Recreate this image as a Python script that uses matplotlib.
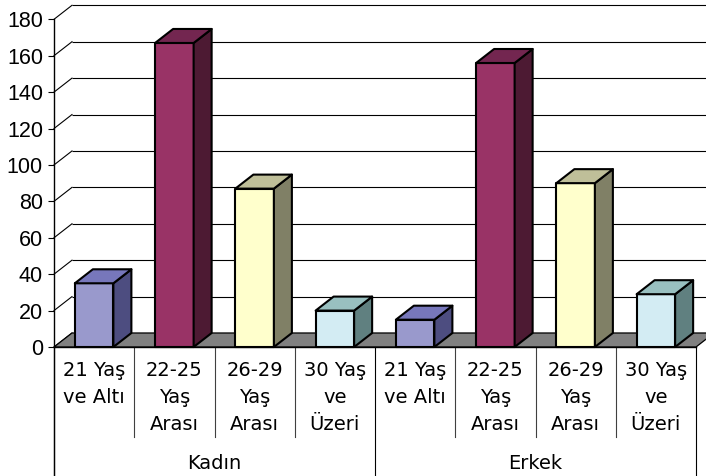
import matplotlib
matplotlib.use("Agg")
import matplotlib.pyplot as plt
from matplotlib.patches import Polygon

# --- data -------------------------------------------------------------
groups = ["Kadın", "Erkek"]
age_labels = ["21 Yaş\nve Altı", "22-25\nYaş\nArası", "26-29\nYaş\nArası", "30 Yaş\nve\nÜzeri"]
kadin = [35, 167, 87, 20]
erkek = [15, 156, 90, 29]
y_ticks = [0, 20, 40, 60, 80, 100, 120, 140, 160, 180]

front_colors = ["#9999CC", "#993366", "#FFFFCC", "#D3ECF3"]
side_colors = ["#4D4D80", "#4D1A33", "#808066", "#608080"]
top_colors = ["#7777BB", "#732650", "#BFBF99", "#99C0C0"]

# --- figure / axes geometry (pixels) ------------------------------------
W, H, DPI = 706, 476, 100
X0, X1 = 54, 696          # front plane, left/right
Y0, Y1 = 347, 19.3        # value 0 and value 180
DX_PX, DY_PX = 18, 14     # depth of the 3-D box
YMAX = y_ticks[-1]

fig = plt.figure(figsize=(W / DPI, H / DPI), dpi=DPI)
fig.patch.set_facecolor("white")
ax = fig.add_axes([X0 / W, 1 - Y0 / H, (X1 - X0) / W, (Y0 - Y1) / H])

values = kadin + erkek
n = len(values)
ax.set_xlim(0, n)
ax.set_ylim(0, YMAX)
ax.patch.set_alpha(0)

dx = DX_PX * n / (X1 - X0)
dy = DY_PX * YMAX / (Y0 - Y1)


def px2v(ypx):
    return (Y0 - ypx) * YMAX / (Y0 - Y1)


# back wall gridlines and left-wall diagonals
for v in y_ticks:
    ax.plot([dx, n + dx + 1], [v + dy, v + dy], color="black", lw=0.8,
            zorder=1, clip_on=False, solid_capstyle="butt")
    ax.plot([0, dx], [v, v + dy], color="black", lw=0.8, zorder=1, clip_on=False)

# floor
floor = Polygon([(0, 0), (n, 0), (n + dx, dy), (dx, dy)], closed=True,
                facecolor="#808080", edgecolor="black", lw=0.9, zorder=2,
                clip_on=False)
ax.add_patch(floor)

# bars
BW = 0.48
for i, v in enumerate(values):
    c = i % len(age_labels)
    xl = i + 0.5 - BW / 2
    xr = i + 0.5 + BW / 2
    kw = dict(closed=True, edgecolor="black", lw=1.5, joinstyle="round",
              clip_on=False)
    ax.add_patch(Polygon([(xl, 0), (xr, 0), (xr, v), (xl, v)],
                         facecolor=front_colors[c], zorder=4 + i, **kw))
    ax.add_patch(Polygon([(xr, 0), (xr + dx, dy), (xr + dx, v + dy), (xr, v)],
                         facecolor=side_colors[c], zorder=4 + i, **kw))
    ax.add_patch(Polygon([(xl, v), (xr, v), (xr + dx, v + dy), (xl + dx, v + dy)],
                         facecolor=top_colors[c], zorder=4 + i, **kw))

# axes frame and ticks
for s in ["top", "right", "bottom"]:
    ax.spines[s].set_visible(False)
ax.spines["left"].set_linewidth(1.0)
ax.spines["left"].set_zorder(30)
ax.set_xticks([])
ax.set_yticks(y_ticks)
ax.tick_params(axis="y", direction="out", length=4.5, width=0.8, pad=3.5,
               labelsize=15.5, labelcolor="black")
for lbl in ax.get_yticklabels():
    lbl.set_fontfamily("Liberation Sans")

# front baseline and the axis extension through the label area
ax.plot([0, n], [0, 0], color="black", lw=1.0, zorder=30, clip_on=False)
y_bottom = px2v(H)
ax.plot([0, 0], [0, y_bottom], color="black", lw=1.0, zorder=30, clip_on=False)

# category separators
y_cat = px2v(437)
for k in range(n + 1):
    if k % len(age_labels) == 0:
        ax.plot([k, k], [0, y_bottom], color="black", lw=0.8, clip_on=False)
    else:
        ax.plot([k, k], [0, y_cat], color="#404040", lw=0.8, clip_on=False)

# category labels
for i in range(n):
    ax.text(i + 0.5, px2v(361), age_labels[i % len(age_labels)], ha="center",
            va="top", fontsize=14, family="DejaVu Sans", linespacing=1.52,
            color="black", clip_on=False)

# group labels
for g, name in enumerate(groups):
    ax.text(g * len(age_labels) + len(age_labels) / 2, px2v(464), name,
            ha="center", va="center", fontsize=14, family="DejaVu Sans",
            color="black", clip_on=False)

fig.savefig("out.png", dpi=DPI)
